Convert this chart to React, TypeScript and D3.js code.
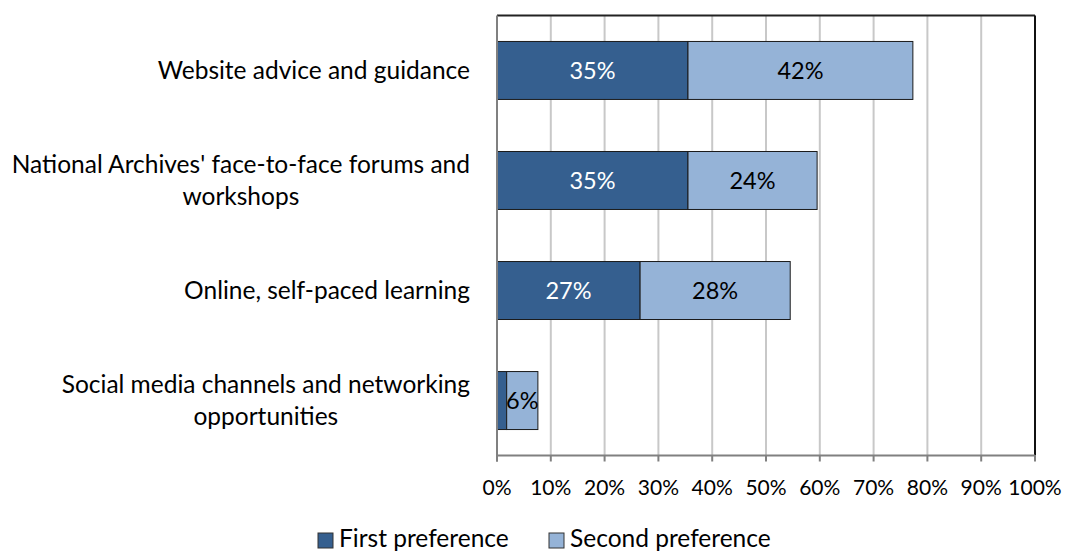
import React from 'react';
import * as d3 from 'd3';

const categories = [
  ['Website advice and guidance'],
  ["National Archives' face-to-face forums and", 'workshops'],
  ['Online, self-paced learning'],
  ['Social media channels and networking', 'opportunities'],
];
const firstPref = [35.5, 35.5, 26.6, 1.8];
const secondPref = [41.8, 24.0, 27.9, 5.8];
const firstLabels = ['35%', '35%', '27%', ''];
const secondLabels = ['42%', '24%', '28%', '6%'];
const ticks = [0, 10, 20, 30, 40, 50, 60, 70, 80, 90, 100];
const legendItems = ['First preference', 'Second preference'];

const W = 1065;
const H = 553;
const left = 497;
const right = 1035;
const top = 15.5;
const bottom = 455.5;
const FONT = 'Lato, "Open Sans", sans-serif';
const C1 = '#355F8F';
const C2 = '#95B3D7';

export default function App() {
  const x = d3.scaleLinear().domain([0, 100]).range([left, right]);
  const y = d3.scaleBand<number>().domain(d3.range(categories.length)).range([top, bottom]).paddingInner(0.473).paddingOuter(0.236);

  return (
    <svg width={W} height={H} style={{ position: 'absolute', left: 0, top: 0 }} fontFamily={FONT}>
      <rect width={W} height={H} fill="#fff" />
      {ticks.slice(1, -1).map((t) => (
        <line key={t} x1={x(t)} x2={x(t)} y1={top} y2={bottom} stroke="#c8c8c8" strokeWidth={2} />
      ))}
      {categories.map((c, i) => {
        const by = y(i)!;
        const bh = y.bandwidth();
        const x0 = x(0), x1 = x(firstPref[i]), x2 = x(firstPref[i] + secondPref[i]);
        const cy = by + bh / 2;
        return (
          <g key={i}>
            <rect x={x0} y={by} width={x1 - x0} height={bh} fill={C1} stroke="#1b1b1b" strokeWidth={1} />
            <rect x={x1} y={by} width={x2 - x1} height={bh} fill={C2} stroke="#1b1b1b" strokeWidth={1} />
            <text x={(x0 + x1) / 2} y={cy} dy="0.36em" textAnchor="middle" fill="#fff" fontSize={23.5}>{firstLabels[i]}</text>
            <text x={(x1 + x2) / 2} y={cy} dy="0.36em" textAnchor="middle" fill="#000" fontSize={23.5}>{secondLabels[i]}</text>
          </g>
        );
      })}
      <line x1={left} x2={right} y1={top} y2={top} stroke="#222" strokeWidth={2} />
      <line x1={right} x2={right} y1={top} y2={bottom} stroke="#111" strokeWidth={2} />
      <line x1={left} x2={left} y1={top} y2={bottom + 6} stroke="#808080" strokeWidth={2} />
      <line x1={left} x2={right} y1={bottom} y2={bottom} stroke="#808080" strokeWidth={2} />
      {ticks.map((t) => (
        <g key={t}>
          <line x1={x(t)} x2={x(t)} y1={bottom} y2={bottom + 6} stroke="#808080" strokeWidth={2} />
          <text x={x(t)} y={bottom + 39} textAnchor="middle" fontSize={21} fill="#000">{t}%</text>
        </g>
      ))}
      <CatLabels y={y} />
      <g fontSize={24.5} fill="#000">
        {legendItems.map((name, i) => {
          const lx = i === 0 ? 318 : 549;
          return (
            <g key={name}>
              <rect x={lx} y={533} width={15} height={15} fill={i === 0 ? C1 : C2} stroke="#333" strokeWidth={1} />
              <text x={lx + 21} y={547}>{name}</text>
            </g>
          );
        })}
      </g>
    </svg>
  );
}

function CatLabels({ y }: { y: d3.ScaleBand<number> }) {
  const ref = React.useRef<SVGGElement>(null);
  React.useEffect(() => {
    const g = d3.select(ref.current);
    g.selectAll('*').remove();
    categories.forEach((lines, i) => {
      const cy = y(i)! + y.bandwidth() / 2;
      const lh = 32;
      const t = g.append('text').attr('font-size', 24.5).attr('fill', '#000');
      const spans = lines.map((l, j) =>
        t.append('tspan').text(l).attr('y', cy + (j - (lines.length - 1) / 2) * lh).attr('dy', '0.36em'));
      const widths = spans.map((s) => (s.node() as SVGTSpanElement).getComputedTextLength());
      const maxW = Math.max(...widths);
      const cx = 470 - maxW / 2;
      spans.forEach((s, j) => s.attr('x', cx - widths[j] / 2));
    });
  }, [y]);
  return <g ref={ref} />;
}
